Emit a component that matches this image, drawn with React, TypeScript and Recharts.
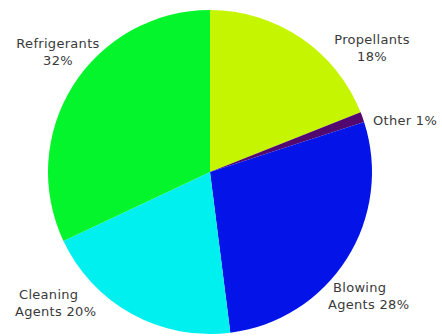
import { PieChart, Pie, Cell } from "recharts";

const categories = ["Propellants", "Other", "Blowing Agents", "Cleaning Agents", "Refrigerants"];
const shares = [19, 1, 28, 20, 32];
const colors = ["#c6f500", "#52086e", "#0414e8", "#00f0f0", "#05f52c"];

// label text lines, and where each label sits relative to the pie centre
const labelLines: Record<string, string[]> = {
  Propellants: ["Propellants", "18%"],
  Other: ["Other 1%"],
  "Blowing Agents": ["Blowing", "Agents 28%"],
  "Cleaning Agents": ["Cleaning", "Agents 20%"],
  Refrigerants: ["Refrigerants", "32%"],
};
const labelPos: Record<string, { dx: number; dy: number; anchor: "start" | "middle" | "end"; lineDx?: number[] }> = {
  Propellants: { dx: 162, dy: -128, anchor: "middle" },
  Other: { dx: 163, dy: -47, anchor: "start" },
  "Blowing Agents": { dx: 123, dy: 120, anchor: "start", lineDx: [0, -5] },
  "Cleaning Agents": { dx: -195, dy: 127, anchor: "start", lineDx: [4, 0] },
  Refrigerants: { dx: -152, dy: -124, anchor: "middle" },
};

const data = categories.map((name, i) => ({ name, value: shares[i] }));

function renderLabel(props: any) {
  const { cx, cy, name } = props;
  const pos = labelPos[name];
  const lines = labelLines[name];
  return (
    <text
      x={cx + pos.dx}
      y={cy + pos.dy}
      textAnchor={pos.anchor}
      fill="#3a3a3a"
      fontSize={13}
      fontFamily="'DejaVu Sans', sans-serif"
      style={{ letterSpacing: "0.3px" }}
    >
      {lines.map((l, i) => (
        <tspan key={i} x={cx + pos.dx + (pos.lineDx ? pos.lineDx[i] : 0)} dy={i === 0 ? 0 : 17}>
          {l}
        </tspan>
      ))}
    </text>
  );
}

export default function App() {
  return (
    <div style={{ width: 442, height: 336, background: "#fff", overflow: "hidden" }}>
      <style>{`body{margin:0}`}</style>
      <PieChart width={442} height={336} margin={{ top: 0, right: 0, bottom: 0, left: 0 }}>
        <Pie
          data={data}
          dataKey="value"
          nameKey="name"
          cx={210}
          cy={172}
          outerRadius={162}
          startAngle={90}
          endAngle={-270}
          stroke="none"
          label={renderLabel}
          labelLine={false}
          isAnimationActive={false}
        >
          {data.map((d, i) => (
            <Cell key={d.name} fill={colors[i]} />
          ))}
        </Pie>
      </PieChart>
    </div>
  );
}
